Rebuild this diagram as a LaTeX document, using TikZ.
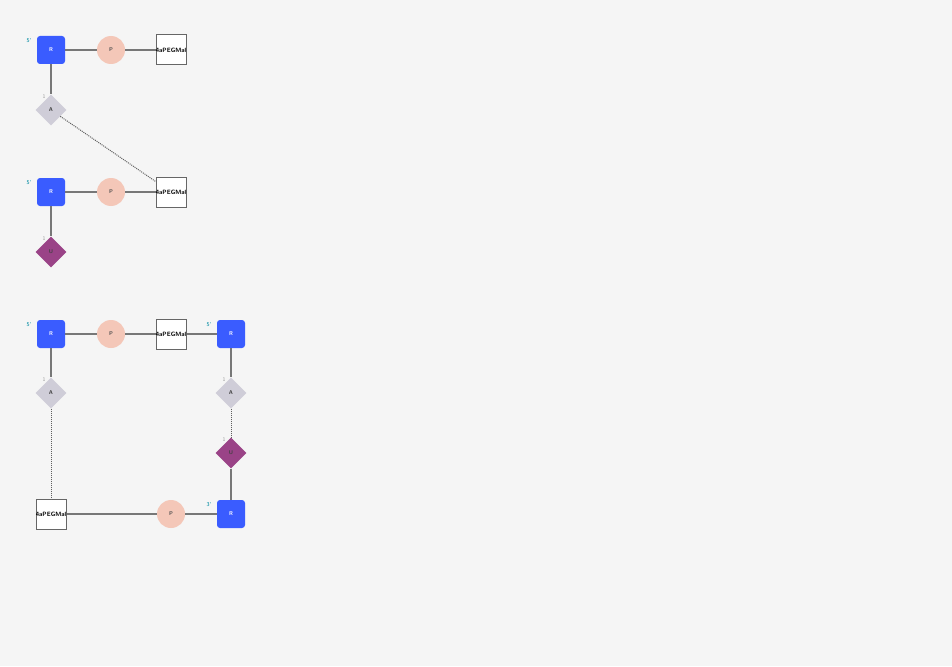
\documentclass[tikz,border=0pt]{standalone}
\usepackage{tikz}
\usetikzlibrary{shapes.geometric}
\definecolor{rblue}{HTML}{3A5CFF}
\definecolor{ppink}{HTML}{F4C7B8}
\definecolor{agray}{HTML}{CFCDD8}
\definecolor{upurple}{HTML}{9A4387}
\definecolor{bggray}{HTML}{F5F5F5}
\definecolor{endteal}{HTML}{2A9DB0}
\definecolor{linkgray}{HTML}{777777}

\newcommand{\linkname}{\makebox[0pt]{4aPEGMal}}

\tikzset{
  tiny/.style={font=\sffamily\bfseries\fontsize{5.5}{6.5}\selectfont},
  ribose/.style={tiny, rectangle, rounded corners=3pt, fill=rblue, minimum size=28pt, inner sep=0pt, text=white},
  phos/.style={tiny, circle, fill=ppink, minimum size=28pt, inner sep=0pt, text=black!70},
  linker/.style={tiny, font=\sffamily\bfseries\fontsize{6.2}{7}\selectfont, rectangle, draw=black!60, line width=1pt, fill=white!96!bggray, minimum size=30pt, inner sep=0pt, text=black},
  baseA/.style={tiny, diamond, fill=agray, minimum size=31pt, inner sep=0pt, text=black!75},
  baseU/.style={tiny, diamond, fill=upurple, minimum size=31pt, inner sep=0pt, text=black!75},
  prime/.style={font=\sffamily\bfseries\fontsize{5.5}{6.5}\selectfont, text=endteal, inner sep=0pt},
  posnum/.style={font=\sffamily\fontsize{5.5}{6.5}\selectfont, text=black!40, inner sep=0pt},
  bond/.style={linkgray, line width=1.2pt},
  stack/.style={linkgray!80!black, densely dotted, line width=1pt}
}

\begin{document}
\begin{tikzpicture}[x=1pt, y=-1pt]
  \fill [bggray] (0, 0) rectangle (952, 666);
  \useasboundingbox (0, 0) rectangle (952, 666);

  % first strand
  \node [ribose] (r1) at (51, 50) {R};
  \node [phos] (p1) at (111, 50) {P};
  \node [linker] (l1) at (171, 50) {\linkname};
  \node [baseA] (a1) at (51, 110) {A};
  \node [prime] at (29, 41) {5'};
  \node [posnum] at (44, 97) {1};

  \draw [bond] (r1) -- (p1);
  \draw [bond] (p1) -- (l1);
  \draw [bond] (r1) -- (a1);

  % second strand
  \node [ribose] (r2) at (51, 192) {R};
  \node [phos] (p2) at (111, 192) {P};
  \node [linker] (l2) at (171, 192) {\linkname};
  \node [baseU] (u2) at (51, 252) {U};
  \node [prime] at (29, 183) {5'};
  \node [posnum] at (44, 239) {1};

  \draw [bond] (r2) -- (p2);
  \draw [bond] (p2) -- (l2);
  \draw [bond] (r2) -- (u2);
  \draw [stack] (a1) -- (l2);

  % loop
  \node [ribose] (r3) at (51, 334) {R};
  \node [phos] (p3) at (111, 334) {P};
  \node [linker] (l3) at (171, 334) {\linkname};
  \node [ribose] (r4) at (231, 334) {R};
  \node [baseA] (a3) at (51, 393) {A};
  \node [baseA] (a4) at (231, 393) {A};
  \node [baseU] (u4) at (231, 453) {U};
  \node [linker] (l5) at (51, 514) {\linkname};
  \node [phos] (p5) at (171, 514) {P};
  \node [ribose] (r5) at (231, 514) {R};

  \node [prime] at (29, 325) {5'};
  \node [prime] at (209, 325) {5'};
  \node [prime] at (209, 505) {3'};
  \node [posnum] at (44, 380) {1};
  \node [posnum] at (224, 380) {1};
  \node [posnum] at (224, 440) {1};

  \draw [bond] (r3) -- (p3);
  \draw [bond] (p3) -- (l3);
  \draw [bond] (l3) -- (r4);
  \draw [bond] (r3) -- (a3);
  \draw [bond] (r4) -- (a4);
  \draw [stack] (a4) -- (u4);
  \draw [bond] (u4) -- (r5);
  \draw [stack] (a3) -- (l5);
  \draw [bond] (l5) -- (p5);
  \draw [bond] (p5) -- (r5);
\end{tikzpicture}
\end{document}
